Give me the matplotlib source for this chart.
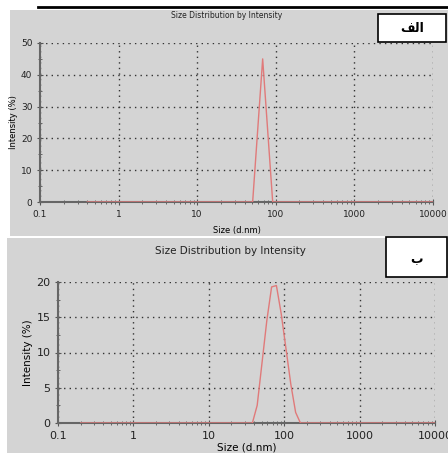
import numpy as np
import matplotlib.pyplot as plt
from matplotlib.patches import Rectangle
from matplotlib.ticker import MultipleLocator, LogLocator, FixedLocator, NullFormatter

# panel A (top): size bins (d.nm) and intensity (%)
size_a = [0.4, 43.82, 50.75, 68.06, 91.28, 105.7, 10000]
intens_a = [0, 0, 0, 45, 0, 0, 0]

# panel B (bottom)
size_b = [0.2, 37.84, 43.82, 50.75, 58.77, 68.06, 78.82, 91.28, 105.7, 122.4, 141.8, 164.2, 10000]
intens_b = [0, 0, 2.5, 8.5, 14.5, 19.3, 19.5, 15.5, 10.5, 5.5, 1.5, 0, 0]

x_ticks = [0.1, 1, 10, 100, 1000, 10000]
x_labels = ['0.1', '1', '10', '100', '1000', '10000']

title = 'Size Distribution by Intensity'
# Arabic labels (presentation forms so they render joined, right to left)
label_a = '\uFED2\uFEDF\uFE8D'   # الف
label_b = 'ب'

W, H = 448, 453
fig = plt.figure(figsize=(W / 100, H / 100), dpi=100)
fig.patch.set_facecolor('white')

def fx(px):
    return px / W

def fy(py):
    return 1 - py / H

# gray screenshot backgrounds
fig.patches.append(Rectangle((fx(10), fy(236)), fx(438), 226 / H, transform=fig.transFigure,
                             facecolor='#d4d4d4', edgecolor='none', zorder=-5))
fig.patches.append(Rectangle((fx(7), fy(453)), fx(441), 215 / H, transform=fig.transFigure,
                             facecolor='#d4d4d4', edgecolor='none', zorder=-5))
# black rule at very top
fig.add_artist(plt.Line2D([fx(38), fx(448)], [fy(7), fy(7)], transform=fig.transFigure,
                          color='black', lw=2))


def panel(rect, x, y, ymax, ymajor, yminor, fs, xpad):
    l, t, r, b = rect
    ax = fig.add_axes([fx(l), fy(b), fx(r - l), (b - t) / H])
    ax.set_facecolor('none')
    ax.plot(x, y, color='#e07a7a', lw=1.0, zorder=3)
    ax.set_xscale('log')
    ax.set_xlim(0.1, 10000)
    ax.set_ylim(0, ymax)
    ax.xaxis.set_major_locator(FixedLocator(x_ticks))
    ax.set_xticklabels(x_labels)
    ax.xaxis.set_minor_locator(LogLocator(base=10, subs=np.arange(2, 10)))
    ax.xaxis.set_minor_formatter(NullFormatter())
    ax.yaxis.set_major_locator(MultipleLocator(ymajor))
    ax.yaxis.set_minor_locator(MultipleLocator(yminor))
    for s in ['top', 'right']:
        ax.spines[s].set_visible(False)
    for s in ['left', 'bottom']:
        ax.spines[s].set_color('#666666')
        ax.spines[s].set_linewidth(1.5)
    ax.grid(True, which='major', linestyle=(0, (1, 3)), color='#333333', lw=1.0)
    ax.tick_params(which='both', direction='inout', colors='#555555', labelcolor='#222222',
                   labelsize=fs)
    ax.tick_params(which='major', length=4)
    ax.tick_params(which='minor', length=3)
    ax.set_xlabel('Size (d.nm)', fontsize=fs - 0.5, labelpad=xpad)
    ax.set_ylabel('Intensity (%)', fontsize=fs - 0.5, labelpad=2)
    return ax


ax1 = panel((40, 43, 433, 202), size_a, intens_a, 50, 10, 5, 6.5, 5)
ax2 = panel((58, 282, 435, 423), size_b, intens_b, 20, 5, 2.5, 8, 1)

fig.text(fx(227), fy(16), title, ha='center', va='center', fontsize=5.5, color='#222222')
fig.text(fx(230), fy(251), title, ha='center', va='center', fontsize=7.5, color='#222222')

# label boxes
fig.patches.append(Rectangle((fx(378), fy(42)), fx(68), 28 / H, transform=fig.transFigure,
                             facecolor='white', edgecolor='black', lw=1.2, zorder=5))
fig.text(fx(412), fy(29), label_a, ha='center', va='center', fontsize=9, fontweight='bold',
         zorder=6)
fig.patches.append(Rectangle((fx(386), fy(277)), fx(61), 40 / H, transform=fig.transFigure,
                             facecolor='white', edgecolor='black', lw=1.2, zorder=5))
fig.text(fx(416), fy(260), label_b, ha='center', va='center', fontsize=9, fontweight='bold',
         zorder=6)

fig.savefig('out.png', dpi=100)
